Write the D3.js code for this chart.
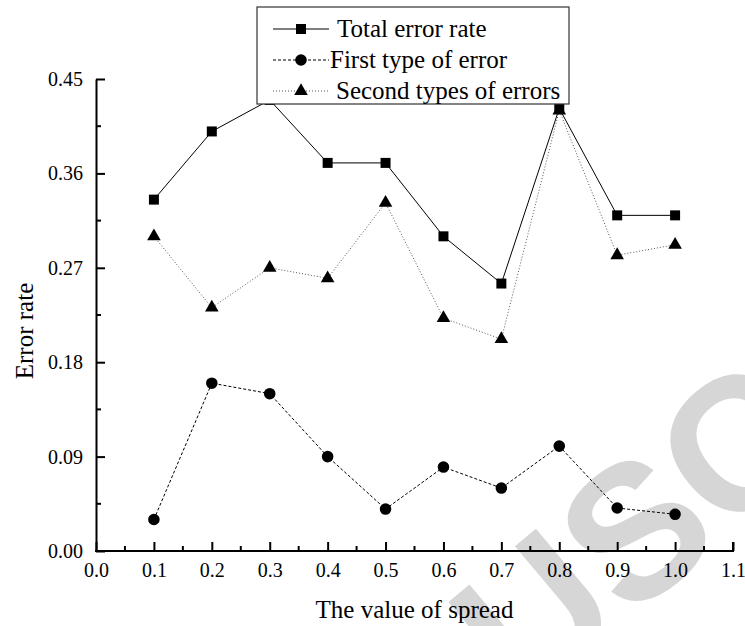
<!DOCTYPE html>
<html>
<head>
<meta charset="utf-8">
<script src="https://cdn.jsdelivr.net/npm/d3@7"></script>
<style>
  body { margin: 0; background: #fff; }
  svg text { font-family: "Liberation Serif", "Times New Roman", Times, "DejaVu Serif", serif; }
</style>
</head>
<body>
<svg id="chart" width="745" height="626"></svg>
<script>
// data
var spread = [0.1, 0.2, 0.3, 0.4, 0.5, 0.6, 0.7, 0.8, 0.9, 1.0];
var totalError = [0.335, 0.40, 0.43, 0.37, 0.37, 0.30, 0.255, 0.422, 0.32, 0.32];
var firstError = [0.03, 0.16, 0.15, 0.09, 0.04, 0.08, 0.06, 0.10, 0.041, 0.035];
var secondError = [0.30, 0.232, 0.27, 0.26, 0.332, 0.222, 0.202, 0.42, 0.282, 0.292];
var xTicks = [0, 0.1, 0.2, 0.3, 0.4, 0.5, 0.6, 0.7, 0.8, 0.9, 1.0, 1.1];
var yTicks = [0, 0.09, 0.18, 0.27, 0.36, 0.45];
var seriesNames = ["Total error rate", "First type of error", "Second types of errors"];

var svg = d3.select("#chart");

// faint watermark under everything (it runs off the page in the original too)
svg.append("text")
  .attr("transform", "translate(635,530) rotate(-40)")
  .attr("text-anchor", "middle")
  .attr("dominant-baseline", "central")
  .style("font-family", "'Liberation Sans', Arial, sans-serif")
  .style("font-weight", "bold")
  .attr("font-size", 190)
  .attr("fill", "#d6d6d6")
  .text("USC");

var x = d3.scaleLinear().domain([0, 1.1]).range([96, 733]);
var y = d3.scaleLinear().domain([0, 0.45]).range([551, 79]);

// minor ticks halfway between majors
var xMinor = d3.range(0.05, 1.1, 0.1);
var yMinor = d3.range(0.045, 0.45, 0.09);

var series = [
  { name: seriesNames[0], values: totalError, dash: null, color: "#000", shape: d3.symbolSquare, size: 100 },
  { name: seriesNames[1], values: firstError, dash: "3,2", color: "#000", shape: d3.symbolCircle, size: 105 },
  { name: seriesNames[2], values: secondError, dash: "1,2", color: "#555", shape: d3.symbolTriangle, size: 80 }
];

var line = d3.line()
  .x(function(d) { return x(d[0]); })
  .y(function(d) { return y(d[1]); });

var plot = svg.append("g");

series.forEach(function(s) {
  var pts = spread.map(function(v, i) { return [v, s.values[i]]; });
  plot.append("path")
    .attr("d", line(pts))
    .attr("fill", "none")
    .attr("stroke", s.color)
    .attr("stroke-width", 1)
    .attr("stroke-dasharray", s.dash);
  plot.selectAll(null)
    .data(pts)
    .enter().append("path")
    .attr("d", d3.symbol().type(s.shape).size(s.size))
    .attr("transform", function(d) { return "translate(" + x(d[0]) + "," + y(d[1]) + ")"; })
    .attr("fill", "#000");
});

// axes: ticks point inward
var xAxis = svg.append("g").attr("transform", "translate(0," + y(0) + ")")
  .call(d3.axisBottom(x).tickValues(xTicks).tickFormat(d3.format(".1f")).tickSize(-9).tickSizeOuter(0).tickPadding(12));
xAxis.append("g").selectAll("line").data(xMinor).enter().append("line")
  .attr("x1", function(d) { return x(d); }).attr("x2", function(d) { return x(d); })
  .attr("y1", 0).attr("y2", -5).attr("stroke", "#000").attr("stroke-width", 2);

var yAxis = svg.append("g").attr("transform", "translate(" + x(0) + ",0)")
  .call(d3.axisLeft(y).tickValues(yTicks).tickFormat(d3.format(".2f")).tickSize(-9).tickSizeOuter(0).tickPadding(13));
yAxis.append("g").selectAll("line").data(yMinor).enter().append("line")
  .attr("y1", function(d) { return y(d); }).attr("y2", function(d) { return y(d); })
  .attr("x1", 0).attr("x2", 5).attr("stroke", "#000").attr("stroke-width", 2);

[xAxis, yAxis].forEach(function(a) {
  a.attr("font-family", null);
  a.select(".domain").attr("stroke-width", 2);
  a.selectAll(".tick line").attr("stroke-width", 2);
  a.selectAll("text").attr("font-size", 20).attr("fill", "#000");
});
xAxis.selectAll(".tick text").attr("dy", "0.71em");
// extend x axis line a bit so corner is closed
xAxis.select(".domain").attr("d", "M" + (x(0) - 1) + ",0H" + x(1.1) + "V-9");

// axis titles
svg.append("text")
  .attr("x", (x(0) + x(1.1)) / 2).attr("y", 618)
  .attr("text-anchor", "middle").attr("font-size", 25)
  .text("The value of spread");
svg.append("text")
  .attr("transform", "translate(33,331) rotate(-90)")
  .attr("text-anchor", "middle").attr("font-size", 25)
  .text("Error rate");

// legend with white background covering the lines
var legend = svg.append("g");
legend.append("rect")
  .attr("x", 257).attr("y", 7).attr("width", 312).attr("height", 97)
  .attr("fill", "#fff").attr("stroke", "#333").attr("stroke-width", 1.2);

var rowY = [29, 60, 91];
var textX = [337, 330, 336];
series.forEach(function(s, i) {
  var g = legend.append("g");
  g.append("line")
    .attr("x1", 273).attr("x2", 329).attr("y1", rowY[i]).attr("y2", rowY[i])
    .attr("stroke", s.color).attr("stroke-width", 1).attr("stroke-dasharray", s.dash);
  g.append("path")
    .attr("d", d3.symbol().type(s.shape).size(s.size))
    .attr("transform", "translate(301," + rowY[i] + ")")
    .attr("fill", "#000");
  g.append("text")
    .attr("x", textX[i]).attr("y", rowY[i] + 8)
    .attr("font-size", 25)
    .text(s.name);
});
</script>
</body>
</html>
